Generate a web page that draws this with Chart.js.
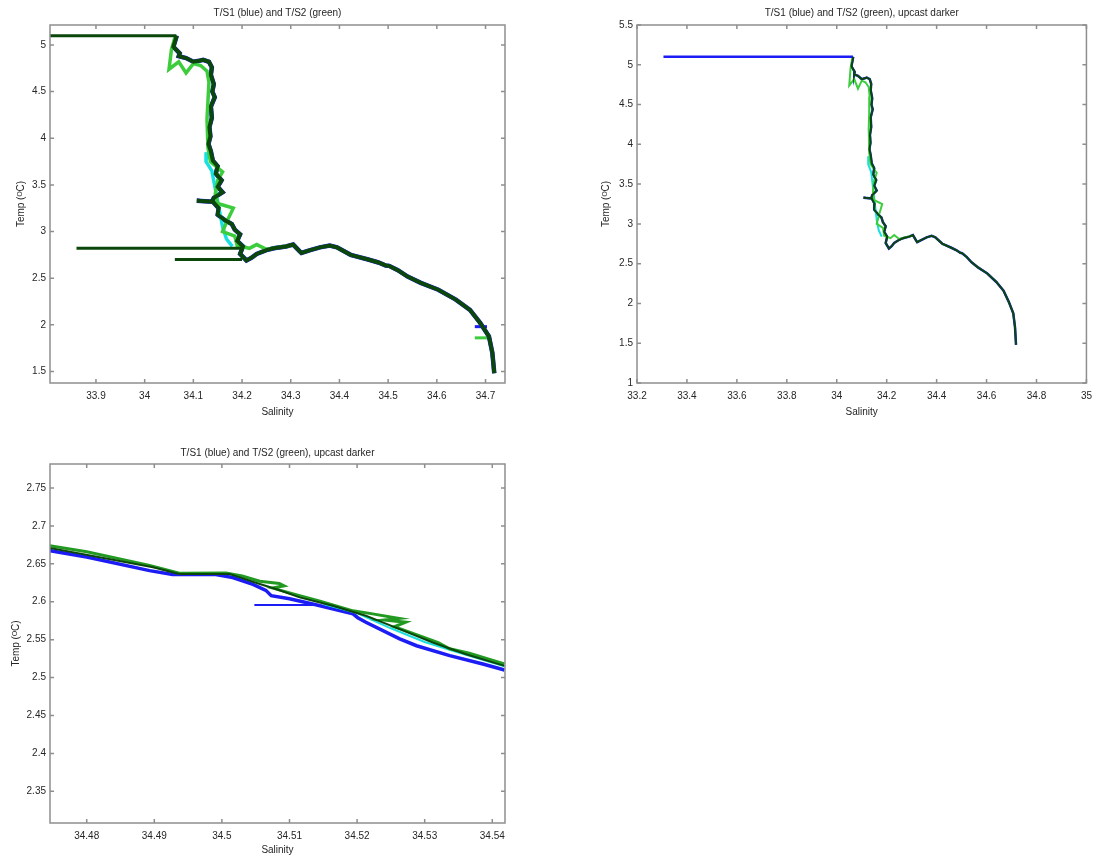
<!DOCTYPE html>
<html>
<head>
<meta charset="utf-8">
<script src="https://cdn.jsdelivr.net/npm/chart.js@4.4.1/dist/chart.umd.min.js"></script>
<style>
  body { margin: 0; background: #fff; width: 1099px; height: 856px; position: relative; overflow: hidden; }
  canvas { position: absolute; }
</style>
</head>
<body>
<canvas id="ts1" width="520" height="425" style="left:0;top:0"></canvas>
<canvas id="ts2" width="539" height="425" style="left:560px;top:0"></canvas>
<canvas id="ts3" width="520" height="416" style="left:0;top:440px"></canvas>
<script>
// main T/S profile, surface to bottom
var profileSal = [34.066, 34.059, 34.072, 34.070, 34.085, 34.100, 34.112, 34.120, 34.132, 34.138,
    34.136, 34.142, 34.139, 34.144, 34.136, 34.138, 34.133, 34.135, 34.131, 34.136,
    34.140, 34.150, 34.146, 34.158, 34.150, 34.160, 34.142, 34.138, 34.107, 34.140,
    34.152, 34.150, 34.165, 34.179, 34.185, 34.196, 34.190, 34.202, 34.196, 34.209,
    34.220, 34.230, 34.250, 34.265, 34.290, 34.305, 34.318, 34.322, 34.340, 34.360,
    34.380, 34.395, 34.423, 34.459, 34.480, 34.495, 34.502, 34.520, 34.540, 34.567,
    34.603, 34.639, 34.668, 34.689, 34.707, 34.714, 34.718];
var profileTemp = [5.10, 4.98, 4.91, 4.88, 4.86, 4.82, 4.83, 4.84, 4.82, 4.76,
    4.68, 4.58, 4.50, 4.44, 4.34, 4.22, 4.12, 4.02, 3.94, 3.86,
    3.76, 3.70, 3.62, 3.55, 3.48, 3.42, 3.36, 3.32, 3.33, 3.32,
    3.25, 3.18, 3.12, 3.08, 3.02, 2.97, 2.90, 2.84, 2.76, 2.69,
    2.72, 2.76, 2.80, 2.82, 2.84, 2.86, 2.79, 2.77, 2.80, 2.83,
    2.85, 2.83, 2.75, 2.70, 2.668, 2.636, 2.632, 2.585, 2.517, 2.45,
    2.376, 2.27, 2.16, 2.02, 1.876, 1.70, 1.48];

// T/S2 downcast (light green) where it departs from the main profile
var s2DownSal = [34.062, 34.055, 34.050, 34.070, 34.085, 34.100, 34.115, 34.128, 34.132, 34.130,
    34.128, 34.130, 34.135, 34.160, 34.150, 34.145, 34.150, 34.182, 34.170, 34.160,
    34.185, 34.190, 34.215, 34.230, 34.250, 34.300];
var s2DownTemp = [5.08, 4.95, 4.74, 4.82, 4.70, 4.80, 4.78, 4.72, 4.60, 4.40,
    4.20, 3.90, 3.75, 3.64, 3.55, 3.40, 3.30, 3.25, 3.12, 3.00,
    2.95, 2.85, 2.82, 2.86, 2.81, 2.85];

// T/S1 downcast (cyan) fragments
var s1DownSal = [34.128, 34.126, 34.138, 34.160, 34.168, 34.180];
var s1DownTemp = [3.85, 3.75, 3.65, 3.05, 2.92, 2.84];

// horizontal spikes
var surfSal = [33.306, 34.065];
var surfTemp = [5.10, 5.10];
var spikeASal = [33.86, 34.20];
var spikeATemp = [2.82, 2.82];
var spikeBSal = [34.062, 34.20];
var spikeBTemp = [2.70, 2.70];
var spikeCSal = [34.678, 34.703];
var spikeCTemp = [1.98, 1.98];
var spikeDSal = [34.678, 34.706];
var spikeDTemp = [1.86, 1.86];

// zoomed section (third panel)
var zBlueSal = [34.4745, 34.480, 34.4893, 34.4927, 34.4991, 34.5016, 34.5046, 34.5065, 34.5073, 34.510,
    34.5139, 34.5194, 34.5201, 34.5213, 34.5263, 34.5288, 34.5337, 34.5386, 34.5418];
var zBlueTemp = [2.6675, 2.659, 2.641, 2.636, 2.636, 2.632, 2.623, 2.615, 2.608, 2.604,
    2.596, 2.584, 2.579, 2.573, 2.551, 2.542, 2.529, 2.518, 2.510];
var zCyanSal = [34.5150, 34.5200, 34.5250, 34.5300, 34.5350, 34.5418];
var zCyanTemp = [2.597, 2.585, 2.565, 2.547, 2.533, 2.515];
var zGreenSal = [34.4745, 34.480, 34.4893, 34.4937, 34.5006, 34.503, 34.5056, 34.5085, 34.5092, 34.5075,
    34.5095, 34.5115, 34.5144, 34.5194, 34.5223, 34.5262, 34.5240, 34.5272, 34.5255, 34.5302,
    34.5320, 34.5337, 34.5366, 34.5418];
var zGreenTemp = [2.674, 2.666, 2.648, 2.6375, 2.638, 2.634, 2.627, 2.624, 2.621, 2.618,
    2.613, 2.608, 2.601, 2.588, 2.584, 2.578, 2.576, 2.573, 2.567, 2.552,
    2.546, 2.538, 2.532, 2.518];
var zDarkSal = [34.4745, 34.4898, 34.4937, 34.5011, 34.5056, 34.508, 34.5115, 34.5164, 34.5213, 34.5263,
    34.5312, 34.5361, 34.5418];
var zDarkTemp = [2.671, 2.6455, 2.6367, 2.6367, 2.6234, 2.6168, 2.6058, 2.5948, 2.5815, 2.5639,
    2.5463, 2.5308, 2.5154];
var zStepSal = [34.5048, 34.5139];
var zStepTemp = [2.5956, 2.5956];

// tick labels
var ticksSal1 = [33.9, 34, 34.1, 34.2, 34.3, 34.4, 34.5, 34.6, 34.7];
var ticksTemp1 = [1.5, 2, 2.5, 3, 3.5, 4, 4.5, 5];
var ticksSal2 = [33.2, 33.4, 33.6, 33.8, 34, 34.2, 34.4, 34.6, 34.8, 35];
var ticksTemp2 = [1, 1.5, 2, 2.5, 3, 3.5, 4, 4.5, 5, 5.5];
var ticksSal3 = [34.48, 34.49, 34.5, 34.51, 34.52, 34.53, 34.54];
var ticksTemp3 = [2.35, 2.4, 2.45, 2.5, 2.55, 2.6, 2.65, 2.7, 2.75];

var BLUE = '#1c1cf5', CYAN = '#19e0e0', LGREEN = '#3ccc3c', GREEN = '#229a22', DGREEN = '#0b470b';

Chart.defaults.font.family = '"Liberation Sans", Arial, sans-serif';
Chart.defaults.font.size = 10;
Chart.defaults.color = '#262626';

function pts(xs, ys) {
    return xs.map(function (v, i) { return { x: v, y: ys[i] }; });
}
function trace(xs, ys, color, width) {
    return {
        data: pts(xs, ys), borderColor: color, backgroundColor: color,
        borderWidth: width, showLine: true, pointRadius: 0, tension: 0
    };
}

// MATLAB-like box with inward ticks on all four sides
var boxPlugin = {
    id: 'boxTicks',
    afterDatasetsDraw: function (chart) {
        var ctx = chart.ctx, a = chart.chartArea, sx = chart.scales.x, sy = chart.scales.y;
        ctx.save();
        ctx.strokeStyle = '#8e8e8e';
        ctx.lineWidth = 1.5;
        ctx.strokeRect(a.left, a.top, a.right - a.left, a.bottom - a.top);
        ctx.beginPath();
        sx.ticks.forEach(function (t) {
            var p = sx.getPixelForValue(t.value);
            ctx.moveTo(p, a.bottom); ctx.lineTo(p, a.bottom - 4);
            ctx.moveTo(p, a.top); ctx.lineTo(p, a.top + 4);
        });
        sy.ticks.forEach(function (t) {
            var p = sy.getPixelForValue(t.value);
            ctx.moveTo(a.left, p); ctx.lineTo(a.left + 4, p);
            ctx.moveTo(a.right, p); ctx.lineTo(a.right - 4, p);
        });
        ctx.stroke();
        ctx.restore();
    }
};

function makeChart(id, c) {
    // Chart.js paints dataset 0 on top, so reverse: listed order = painting order
    return new Chart(document.getElementById(id), {
        type: 'scatter',
        data: { datasets: c.datasets.slice().reverse() },
        plugins: [boxPlugin],
        options: {
            responsive: false,
            animation: false,
            layout: { padding: { left: 0, right: c.padRight, top: 0, bottom: 0 } },
            plugins: {
                legend: { display: false },
                tooltip: { enabled: false },
                title: {
                    display: true, text: c.title, fullSize: false,
                    font: { size: 10, weight: 'normal' }, color: '#262626',
                    padding: { top: 7, bottom: c.titleBottom }
                }
            },
            scales: {
                x: {
                    type: 'linear', min: c.xMin, max: c.xMax,
                    afterBuildTicks: function (s) { s.ticks = c.xTicks.map(function (v) { return { value: v }; }); },
                    afterFit: function (s) { s.height = c.xHeight; },
                    grid: { display: false, drawTicks: false },
                    border: { display: false },
                    ticks: { padding: 7, maxRotation: 0, autoSkip: false, callback: function (v) { return String(+v.toFixed(2)); } },
                    title: { display: true, text: 'Salinity', font: { size: 10 }, padding: { bottom: c.xTitlePad } }
                },
                y: {
                    type: 'linear', min: c.yMin, max: c.yMax,
                    afterBuildTicks: function (s) { s.ticks = c.yTicks.map(function (v) { return { value: v }; }); },
                    afterFit: function (s) { s.width = c.yWidth; },
                    grid: { display: false, drawTicks: false },
                    border: { display: false },
                    ticks: { padding: 4, autoSkip: false, callback: function (v) { return String(+v.toFixed(2)); } },
                    title: { display: true, text: 'Temp (\u1D3CC)', font: { size: 10 }, padding: { top: c.yTitlePad } }
                }
            }
        }
    });
}

makeChart('ts1', {
    title: 'T/S1 (blue) and T/S2 (green)',
    xMin: 33.8056, xMax: 34.74, xTicks: ticksSal1,
    yMin: 1.376, yMax: 5.214, yTicks: ticksTemp1,
    padRight: 15, yWidth: 50, xHeight: 42, titleBottom: 6, xTitlePad: 7, yTitlePad: 15,
    datasets: [
        trace(spikeCSal, spikeCTemp, BLUE, 3),
        trace(spikeDSal, spikeDTemp, LGREEN, 3),
        trace(profileSal, profileTemp, BLUE, 4.5),
        trace(s1DownSal, s1DownTemp, CYAN, 3.5),
        trace(s2DownSal, s2DownTemp, LGREEN, 3.5),
        trace(surfSal, surfTemp, DGREEN, 3),
        trace(spikeASal, spikeATemp, DGREEN, 3),
        trace(spikeBSal, spikeBTemp, DGREEN, 3),
        trace(profileSal, profileTemp, DGREEN, 4)
    ]
});

makeChart('ts2', {
    title: 'T/S1 (blue) and T/S2 (green), upcast darker',
    xMin: 33.2, xMax: 35, xTicks: ticksSal2,
    yMin: 1, yMax: 5.5, yTicks: ticksTemp2,
    padRight: 8, yWidth: 77, xHeight: 42, titleBottom: 6, xTitlePad: 7, yTitlePad: 40,
    datasets: [
        trace(surfSal, surfTemp, BLUE, 2.5),
        trace(profileSal, profileTemp, BLUE, 2.5),
        trace(s1DownSal, s1DownTemp, CYAN, 2),
        trace(s2DownSal, s2DownTemp, LGREEN, 2),
        trace(profileSal, profileTemp, DGREEN, 2)
    ]
});

makeChart('ts3', {
    title: 'T/S1 (blue) and T/S2 (green), upcast darker',
    xMin: 34.47457, xMax: 34.54188, xTicks: ticksSal3,
    yMin: 2.3083, yMax: 2.7816, yTicks: ticksTemp3,
    padRight: 15, yWidth: 50, xHeight: 33, titleBottom: 5, xTitlePad: 0, yTitlePad: 10,
    datasets: [
        trace(zBlueSal, zBlueTemp, BLUE, 3.5),
        trace(zStepSal, zStepTemp, BLUE, 2),
        trace(zCyanSal, zCyanTemp, CYAN, 2),
        trace(zGreenSal, zGreenTemp, GREEN, 3),
        trace(zDarkSal, zDarkTemp, DGREEN, 2)
    ]
});
</script>
</body>
</html>
